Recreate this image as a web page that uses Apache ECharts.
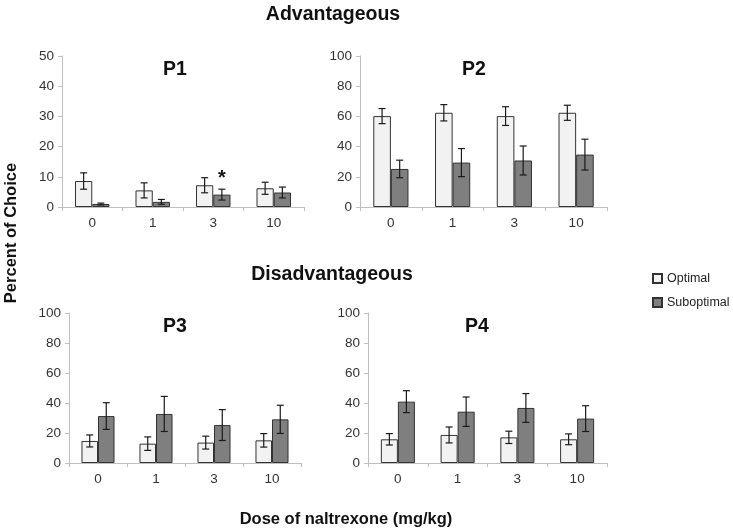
<!DOCTYPE html>
<html><head><meta charset="utf-8">
<script src="https://cdn.jsdelivr.net/npm/echarts@6/dist/echarts.min.js"></script>
<style>html,body{margin:0;padding:0;background:#fff}#c{width:733px;height:530px}</style>
</head><body><div id="c"></div>
<script>
const doses = ['0', '1', '3', '10'];
const seriesNames = ['Optimal', 'Suboptimal'];
const panelTitles = ['P1', 'P2', 'P3', 'P4'];
// means
const p1Opt = [8.6, 5.5, 7.2, 6.2];
const p1Sub = [1.0, 1.7, 4.1, 4.8];
const p2Opt = [60.2, 62.4, 60.2, 62.4];
const p2Sub = [25.2, 29.4, 30.8, 34.7];
const p3Opt = [14.7, 12.9, 13.6, 15.1];
const p3Sub = [31.3, 32.7, 25.3, 29.1];
const p4Opt = [15.8, 18.7, 17.1, 15.8];
const p4Sub = [40.9, 34.2, 36.7, 29.6];
// error (SEM)
const p1OptErr = [2.7, 2.5, 2.5, 2.0];
const p1SubErr = [0.3, 0.8, 1.8, 1.8];
const p2OptErr = [5.0, 5.4, 6.2, 5.0];
const p2SubErr = [5.8, 9.3, 9.6, 10.2];
const p3OptErr = [4.0, 4.5, 4.3, 4.5];
const p3SubErr = [8.9, 11.7, 10.3, 9.4];
const p4OptErr = [3.8, 5.3, 4.1, 3.6];
const p4SubErr = [7.3, 9.8, 9.6, 8.6];
// significance marks on P1 suboptimal
const p1SubMarks = ['', '', '*', ''];
const yMax = [50, 100, 100, 100];
const yInterval = [10, 20, 20, 20];

const FONT = 'Liberation Sans, Arial, sans-serif';
const CAT_GAP = 0.43;
const grids = [
  {left: 62, top: 56, width: 242, height: 151},
  {left: 360, top: 56, width: 247, height: 151},
  {left: 69, top: 313, width: 232, height: 150},
  {left: 368, top: 313, width: 239, height: 150}
];
const panels = [
  {opt: p1Opt, sub: p1Sub, oe: p1OptErr, se: p1SubErr, marks: p1SubMarks},
  {opt: p2Opt, sub: p2Sub, oe: p2OptErr, se: p2SubErr},
  {opt: p3Opt, sub: p3Sub, oe: p3OptErr, se: p3SubErr},
  {opt: p4Opt, sub: p4Sub, oe: p4OptErr, se: p4SubErr}
];
const colors = ['#f2f2f2', '#7f7f7f'];

function errSeries(gi, means, errs, side, marks) {
  return {
    type: 'custom', xAxisIndex: gi, yAxisIndex: gi, z: 5,
    data: means.map((m, i) => [i, m, errs[i]]),
    renderItem: function (params, api) {
      const i = api.value(0), m = api.value(1), e = api.value(2);
      const catW = api.size([1, 0])[0];
      const bw = catW * (1 - CAT_GAP) / 2;
      const c = api.coord([i, m]);
      const x = c[0] + side * bw / 2;
      const hi = api.coord([i, m + e])[1];
      const lo = api.coord([i, Math.max(0, m - e)])[1];
      const cap = 3.5;
      const st = {stroke: '#1a1a1a', lineWidth: 1.2};
      const children = [
        {type: 'line', shape: {x1: x, y1: hi, x2: x, y2: lo}, style: st},
        {type: 'line', shape: {x1: x - cap, y1: hi, x2: x + cap, y2: hi}, style: st},
        {type: 'line', shape: {x1: x - cap, y1: lo, x2: x + cap, y2: lo}, style: st}
      ];
      const mk = marks ? marks[i] : '';
      if (mk) {
        children.push({type: 'text', style: {text: mk, x: x, y: hi - 1, align: 'center', verticalAlign: 'bottom', font: 'bold 20px ' + FONT, fill: '#111'}});
      }
      return {type: 'group', children: children};
    }
  };
}

function ttl(text, left, top, size) {
  return {text: text, left: left, top: top, textAlign: 'center',
    textStyle: {fontSize: size, fontWeight: 'bold', color: '#111', fontFamily: FONT}};
}

const option = {
  animation: false,
  backgroundColor: '#fff',
  textStyle: {fontFamily: FONT},
  title: [
    ttl('Advantageous', 328, 0, 19.5),
    ttl('Disadvantageous', 327, 260, 19.5),
    ttl(panelTitles[0], 170, 55, 19.5),
    ttl(panelTitles[1], 469, 55, 19.5),
    ttl(panelTitles[2], 170, 312, 19.5),
    ttl(panelTitles[3], 472, 312, 19.5),
    ttl('Dose of naltrexone (mg/kg)', 341, 506, 16.5)
  ],
  graphic: [
    {type: 'text', x: 3, y: 233, rotation: Math.PI / 2,
      style: {text: 'Percent of Choice', font: 'bold 16.5px ' + FONT, fill: '#111', align: 'center', verticalAlign: 'top'}}
  ],
  legend: {
    data: seriesNames, orient: 'vertical', left: 647, top: 267, itemGap: 11,
    itemWidth: 9, itemHeight: 9, icon: 'rect',
    textStyle: {fontSize: 12.5, color: '#222', fontFamily: FONT, padding: [0, 0, 0, 0]}
  },
  grid: grids,
  xAxis: grids.map((g, i) => ({
    type: 'category', gridIndex: i, data: doses,
    axisLine: {lineStyle: {color: '#bfbfbf'}},
    axisTick: {show: true, length: 4, lineStyle: {color: '#bfbfbf'}},
    axisLabel: {fontSize: 13.5, color: '#333', margin: 9, fontFamily: FONT}
  })),
  yAxis: grids.map((g, i) => ({
    type: 'value', gridIndex: i, min: 0, max: yMax[i], interval: yInterval[i],
    axisLine: {show: true, lineStyle: {color: '#bfbfbf'}},
    axisTick: {show: true, length: 4, lineStyle: {color: '#bfbfbf'}},
    splitLine: {show: false},
    axisLabel: {fontSize: 13.5, color: '#333', margin: 8, fontFamily: FONT}
  })),
  series: []
};

panels.forEach((p, gi) => {
  option.series.push({
    name: seriesNames[0], type: 'bar', xAxisIndex: gi, yAxisIndex: gi, data: p.opt,
    barGap: '0%', barCategoryGap: (CAT_GAP * 100) + '%',
    itemStyle: {color: colors[0], borderColor: '#333', borderWidth: 1}
  });
  option.series.push({
    name: seriesNames[1], type: 'bar', xAxisIndex: gi, yAxisIndex: gi, data: p.sub,
    barGap: '0%', barCategoryGap: (CAT_GAP * 100) + '%',
    itemStyle: {color: colors[1], borderColor: '#333', borderWidth: 1}
  });
  option.series.push(errSeries(gi, p.opt, p.oe, -1));
  option.series.push(errSeries(gi, p.sub, p.se, 1, p.marks));
});

const chart = echarts.init(document.getElementById('c'), null, {renderer: 'canvas'});
chart.setOption(option);
</script></body></html>
